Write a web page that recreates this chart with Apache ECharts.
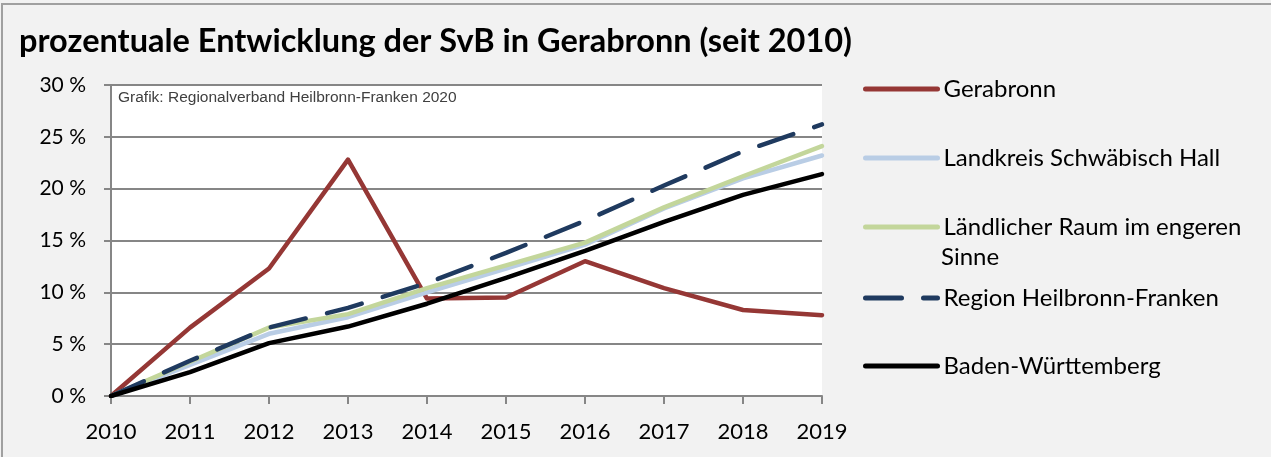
<!DOCTYPE html>
<html>
<head>
<meta charset="utf-8">
<script src="https://cdn.jsdelivr.net/npm/echarts@6/dist/echarts.min.js"></script>
<style>
  html, body { margin: 0; padding: 0; background: #f2f2f2; }
  #frame {
    position: absolute; left: 1px; top: 3px; width: 1270px; height: 454px;
    border-top: 2px solid #a0a0a0; border-left: 2px solid #a0a0a0;
    box-sizing: border-box;
  }
  #chart { position: absolute; left: 0; top: 0; width: 1271px; height: 457px; }
</style>
</head>
<body>
<div id="frame"></div>
<div id="chart"></div>
<script>
// Jahre und prozentuale Entwicklung seit 2010
const years = ['2010', '2011', '2012', '2013', '2014', '2015', '2016', '2017', '2018', '2019']
const gerabronn = [0, 6.6, 12.3, 22.8, 9.4, 9.5, 13.0, 10.4, 8.3, 7.8]
const schwaebischHall = [0, 3.0, 6.0, 7.6, 10.0, 12.3, 14.6, 18.1, 21.0, 23.2]
const laendlicherRaum = [0, 3.3, 6.6, 7.9, 10.4, 12.6, 14.8, 18.2, 21.2, 24.1]
const regionHNF = [0, 3.4, 6.6, 8.5, 10.9, 13.8, 16.9, 20.3, 23.6, 26.2]
const badenWuerttemberg = [0, 2.3, 5.1, 6.7, 8.9, 11.4, 14.0, 16.8, 19.4, 21.4]

const chart = echarts.init(document.getElementById('chart'))

const font = 'Lato, "Open Sans", sans-serif'
const legendBase = {
  left: 858,
  orient: 'vertical',
  itemWidth: 72,
  itemHeight: 14,
  itemGap: 0,
  itemStyle: { opacity: 0 },
  lineStyle: { width: 5, cap: 'round' },
  textStyle: { fontFamily: font, fontSize: 24, color: '#000', padding: [0, 0, 0, 1] }
}

function lineSeries(name, data, color, type) {
  return {
    name,
    type: 'line',
    data,
    symbol: 'none',
    smooth: false,
    lineStyle: { color, width: 4.5, type: type || 'solid', cap: 'round', join: 'round' },
    itemStyle: { color },
    emphasis: { disabled: true },
    animation: false
  }
}

chart.setOption({
  backgroundColor: 'transparent',
  title: {
    text: 'prozentuale Entwicklung der SvB in Gerabronn (seit 2010)',
    left: 14,
    top: 20,
    textStyle: { fontFamily: font, fontSize: 32.5, fontWeight: 'bold', color: '#000' }
  },
  grid: { left: 111, right: 449, top: 85, bottom: 61, show: true, backgroundColor: '#fff', borderWidth: 0 },
  legend: [
    Object.assign({}, legendBase, { top: 72, data: ['Gerabronn'] }),
    Object.assign({}, legendBase, { top: 141, data: ['Landkreis Schwäbisch Hall'] }),
    Object.assign({}, legendBase, { top: 210, data: ['Ländlicher Raum im engeren'] }),
    Object.assign({}, legendBase, { top: 281, data: ['Region Heilbronn-Franken'] }),
    Object.assign({}, legendBase, { top: 349, data: ['Baden-Württemberg'] })
  ],
  graphic: [
    {
      type: 'text', left: 118, top: 90,
      style: { text: 'Grafik: Regionalverband Heilbronn-Franken 2020', fontFamily: 'Liberation Sans, Arial', fontSize: 15.5, fill: '#404040' }
    },
    {
      type: 'text', left: 941, top: 245,
      style: { text: 'Sinne', fontFamily: font, fontSize: 24, fill: '#000' }
    }
  ],
  xAxis: {
    type: 'category',
    data: years,
    boundaryGap: false,
    axisLine: { lineStyle: { color: '#868686', width: 2 } },
    axisTick: { show: true, length: 8, lineStyle: { color: '#868686', width: 2 } },
    axisLabel: { fontFamily: font, fontSize: 22, color: '#000', margin: 25 },
    splitLine: { show: false }
  },
  yAxis: {
    type: 'value',
    min: 0,
    max: 30,
    interval: 5,
    axisLine: { show: true, lineStyle: { color: '#868686', width: 2 } },
    axisTick: { show: true, length: 7, lineStyle: { color: '#868686', width: 2 } },
    axisLabel: { fontFamily: font, fontSize: 21, color: '#000', margin: 25, formatter: '{value} %' },
    splitLine: { show: true, lineStyle: { color: '#868686', width: 2 } }
  },
  series: [
    lineSeries('Gerabronn', gerabronn, '#953735'),
    lineSeries('Landkreis Schwäbisch Hall', schwaebischHall, '#b9cde5'),
    lineSeries('Ländlicher Raum im engeren', laendlicherRaum, '#c3d69b'),
    lineSeries('Region Heilbronn-Franken', regionHNF, '#1f3a5f', [36, 22]),
    lineSeries('Baden-Württemberg', badenWuerttemberg, '#000000')
  ]
})
</script>
</body>
</html>
